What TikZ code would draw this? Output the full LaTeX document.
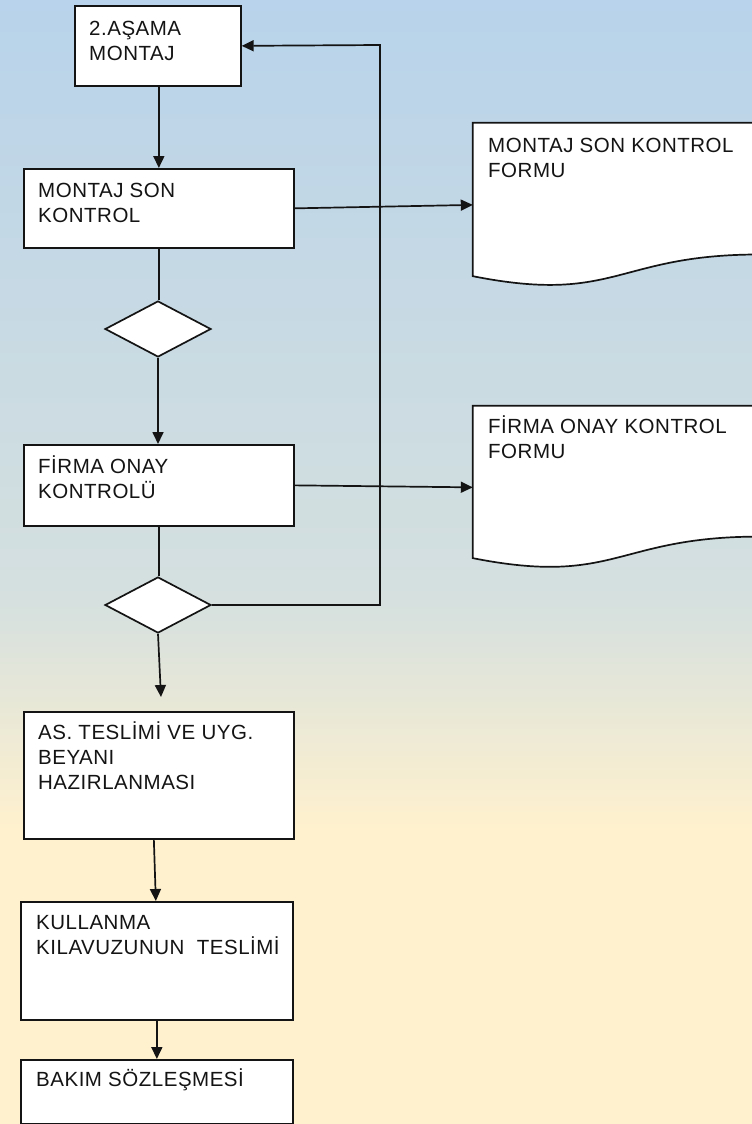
\documentclass[tikz,border=0pt]{standalone}
\usepackage{fontspec}
\setmainfont{Liberation Sans}
\newfontfamily\lblfont[LetterSpace=2.5]{Liberation Sans}
\usetikzlibrary{shapes.geometric,arrows.meta,calc}
\definecolor{bgA}{HTML}{B8D3EB}
\definecolor{bgB}{HTML}{C8DAE3}
\definecolor{bgC}{HTML}{D5E0DF}
\definecolor{bgD}{HTML}{FFF1CE}
\definecolor{ink}{HTML}{141414}
\newcommand\tstrut{\rule{0pt}{20pt}}
\tikzset{
  boxnode/.style={draw=ink, fill=white, line width=1.7pt, inner sep=0pt, anchor=north west},
  decnode/.style={diamond, draw=ink, fill=white, line width=1.7pt, inner sep=0pt, minimum width=106pt, minimum height=56pt},
  docnode/.style={inner sep=0pt, minimum width=286pt},
  docshape/.style={draw=ink, fill=white, line width=1.7pt},
  txt/.style={anchor=north west, inner sep=0pt, align=left, text=ink, font=\lblfont\fontsize{20.5}{25}\selectfont},
  conn/.style={draw=ink, line width=1.7pt},
  arr/.style={conn, -{Triangle[length=12pt, width=11pt]}}
}
\begin{document}
\begin{tikzpicture}[x=1pt, y=-1pt]
  \useasboundingbox (0,0) rectangle (752,1124);
  % background gradient
  \shade[top color=bgA, bottom color=bgB] (0,0) rectangle (752,330.5);
  \shade[top color=bgB, bottom color=bgC] (0,330) rectangle (752,600.5);
  \shade[top color=bgC, bottom color=bgD] (0,600) rectangle (752,830.5);
  \fill[bgD] (0,830) rectangle (752,1124);

  % process boxes
  \node[boxnode, minimum width=166pt, minimum height=80pt] (b1) at (74,5) {};
  \node[boxnode, minimum width=270pt, minimum height=79pt] (b2) at (23,168) {};
  \node[decnode] (d1) at (158,329) {};
  \node[boxnode, minimum width=270pt, minimum height=81pt] (b3) at (23,444) {};
  \node[decnode] (d2) at (158,605) {};
  \node[boxnode, minimum width=270pt, minimum height=127pt] (b4) at (23,711) {};
  \node[boxnode, minimum width=272pt, minimum height=118pt] (b5) at (20,901) {};
  \node[boxnode, minimum width=272pt, minimum height=64pt] (b6) at (20,1059) {};

  % document shapes
  \node[docnode, minimum height=163.8pt] (f1) at (616,204.9) {};
  \node[docnode, minimum height=162.7pt] (f2) at (616,487.35) {};
  \foreach \f in {f1,f2}{
    \draw[docshape] (\f.north west) -- (\f.north east)
      -- ($(\f.north east)!0.802!(\f.south east)$)
      .. controls ($(\f.north)!0.802!(\f.south)$) and ($(\f.north)!1.1075!(\f.south)$)
      .. ($(\f.north west)!0.934!(\f.south west)$) -- cycle;
  }

  % texts
  \node[txt] (t1) at (89,15.5) {\tstrut 2.AŞAMA\\MONTAJ};
  \node[txt] (t2) at (38,177.5) {\tstrut MONTAJ SON\\KONTROL};
  \node[txt] (t3) at (38,453.5) {\tstrut FİRMA ONAY\\KONTROLÜ};
  \node[txt] (t4) at (38,719.5) {\tstrut AS. TESLİMİ VE UYG.\\BEYANI\\HAZIRLANMASI};
  \node[txt] (t5) at (36,909.5) {\tstrut KULLANMA\\KILAVUZUNUN\ \ TESLİMİ};
  \node[txt] (t6) at (36,1066.5) {\tstrut BAKIM SÖZLEŞMESİ};
  \node[txt] (tf1) at (488,132.5) {\tstrut MONTAJ SON KONTROL\\FORMU};
  \node[txt] (tf2) at (488,413.5) {\tstrut FİRMA ONAY KONTROL\\FORMU};

  % connectors
  \coordinate (a4) at (161,697);
  \coordinate (lp) at (380,45);
  \draw[arr] (b1.south -| b2.north) -- (b2.north);
  \draw[conn] (b2.south) -- (b2.south |- d1.north);
  \draw[arr] (d1.south) -- (d1.south |- b3.north);
  \draw[conn] (b3.south) -- (b3.south |- d2.north);
  \draw[arr] (d2.south) -- (a4);
  \draw[arr] ([xshift=-5pt]b4.south) -- ([xshift=-1pt]b5.north);
  \draw[arr] (b5.south) -- (b6.north);
  \draw[arr] (b2.east) -- (f1.west);
  \draw[arr] (b3.east) -- (f2.west);
  \draw[arr] (d2.east) -| (lp) -- (b1.east);
\end{tikzpicture}
\end{document}
